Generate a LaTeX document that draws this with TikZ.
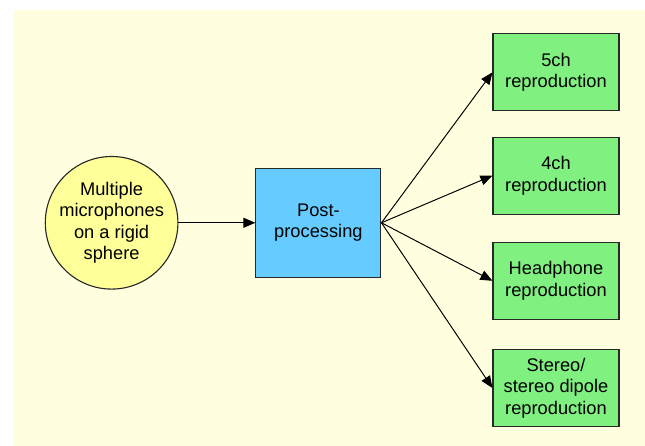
\documentclass[tikz,border=0pt]{standalone}
\usepackage{fontspec}
\setmainfont{Liberation Sans}
\usetikzlibrary{arrows.meta}

\definecolor{bgyellow}{RGB}{255,255,224}
\definecolor{micyellow}{RGB}{255,255,153}
\definecolor{procblue}{RGB}{102,204,255}
\definecolor{outgreen}{RGB}{128,240,128}
\definecolor{edgegray}{RGB}{40,40,40}

\begin{document}
\begin{tikzpicture}[
        every node/.style={font=\fontsize{13}{15.3}\selectfont, align=center, text=black},
        micbox/.style={circle, draw=edgegray, line width=0.8pt, fill=micyellow, minimum size=3.2cm, inner sep=0pt},
        procbox/.style={rectangle, draw=edgegray, line width=0.8pt, fill=procblue, minimum width=3.125cm, minimum height=2.725cm},
        outbox/.style={rectangle, draw=edgegray, line width=0.8pt, fill=outgreen, minimum width=3.15cm, minimum height=1.925cm, inner sep=0pt},
        flow/.style={-{Triangle[length=0.3cm, width=0.25cm]}, line width=0.7pt, black}
    ]
                \useasboundingbox (0,0) rectangle (16.125,11.15);
                \fill[bgyellow] (0.325,0) rectangle (16.125,10.9);
                \node[micbox] (M) at (2.79,5.58) {Multiple\\microphones\\on a rigid\\sphere};
                \node[procbox] (P) at (7.96,5.58) {Post-\\processing};
                \node[outbox] (O5) at (13.9,9.34) {5ch\\reproduction};
                \node[outbox] (O4) at (13.9,6.76) {4ch\\reproduction};
                \node[outbox] (OH) at (13.9,4.13) {Headphone\\reproduction};
                \node[outbox] (OS) at (13.9,1.45) {Stereo/\\stereo dipole\\reproduction};
                \draw[flow] (M.east) to (P.west);
                \draw[flow] (P.east) to (O5.west);
                \draw[flow] (P.east) to (O4.west);
                \draw[flow] (P.east) to (OH.west);
                \draw[flow] (P.east) to (OS.west);
            \end{tikzpicture}
\end{document}
